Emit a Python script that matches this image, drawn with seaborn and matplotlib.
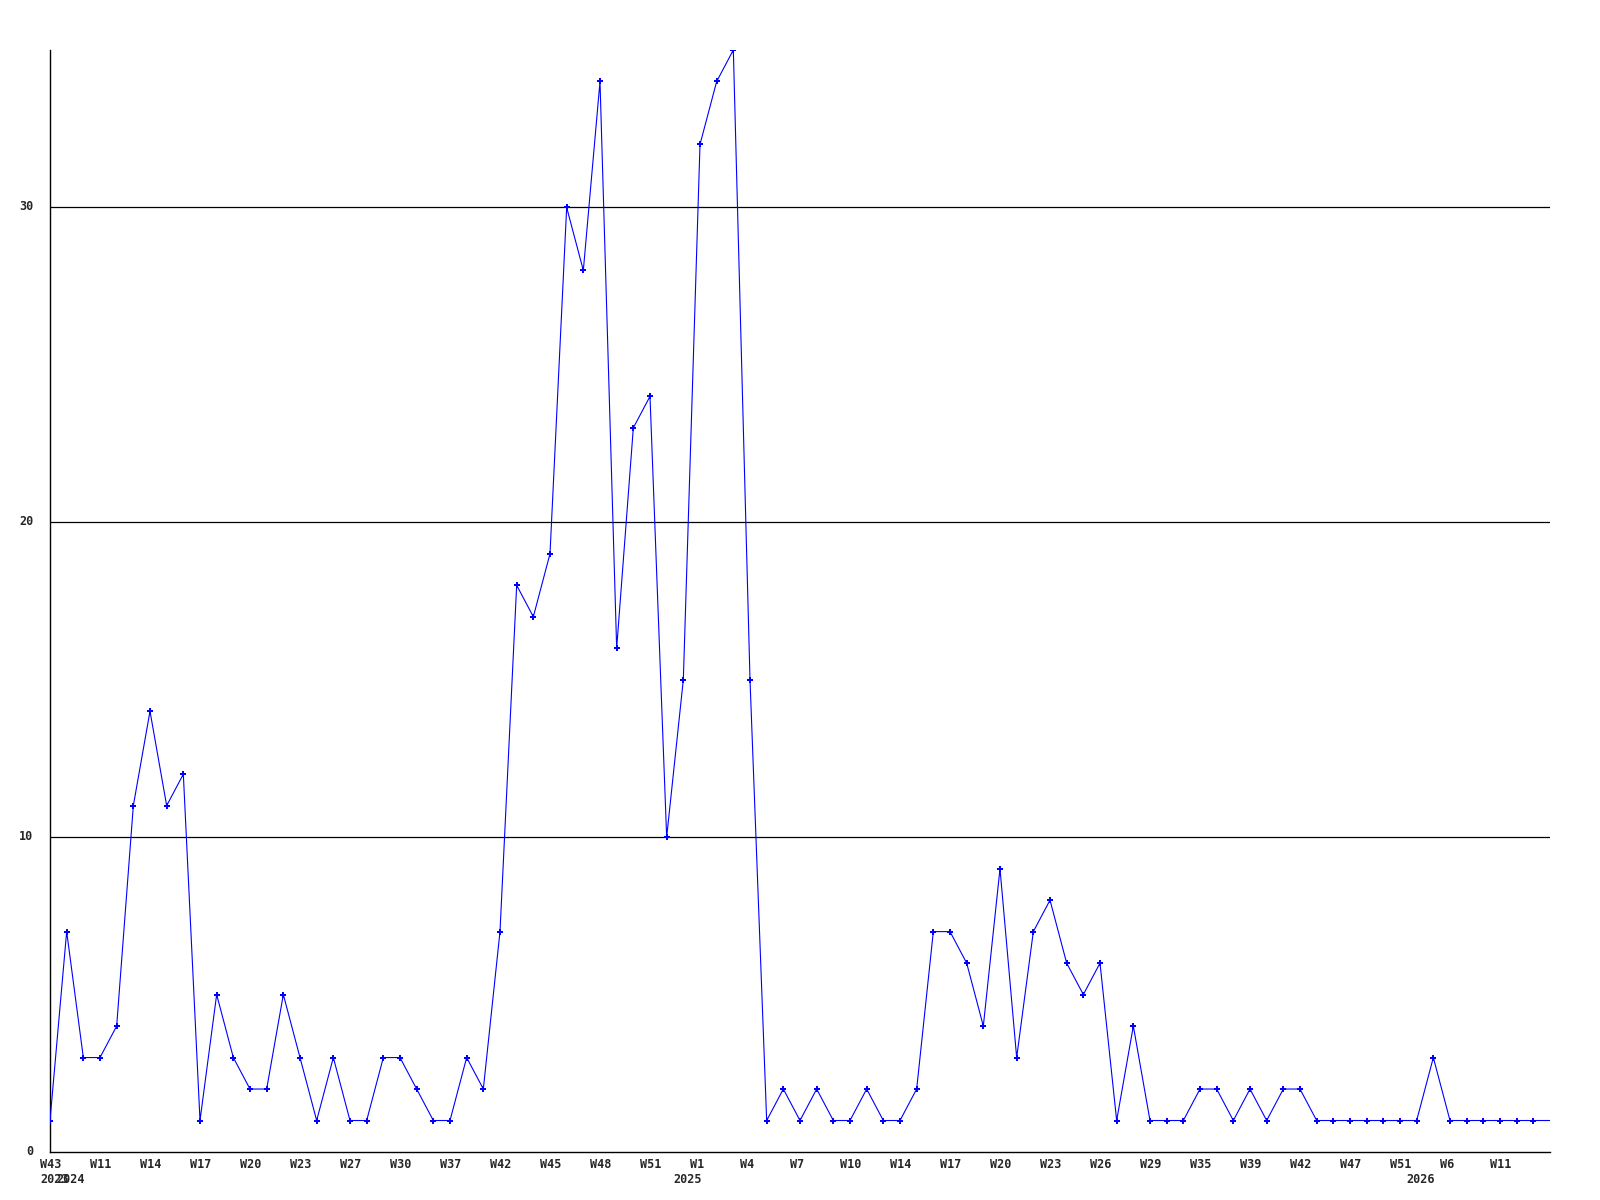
import matplotlib
matplotlib.use("Agg")
import matplotlib.pyplot as plt
import matplotlib.transforms as mtransforms
import seaborn as sns
import numpy as np

# weekly counts, one point per reported week (last point = current week, no marker)
counts = [1, 7, 3, 3, 4, 11, 14, 11, 12, 1,
          5, 3, 2, 2, 5, 3, 1, 3, 1, 1,
          3, 3, 2, 1, 1, 3, 2, 7, 18, 17,
          19, 30, 28, 34, 16, 23, 24, 10, 15, 32,
          34, 35, 15, 1, 2, 1, 2, 1, 1, 2,
          1, 1, 2, 7, 7, 6, 4, 9, 3, 7,
          8, 6, 5, 6, 1, 4, 1, 1, 1, 2,
          2, 1, 2, 1, 2, 2, 1, 1, 1, 1,
          1, 1, 1, 3, 1, 1, 1, 1, 1, 1,
          1]
idx = np.arange(len(counts))

# labels on every third point
week_labels = ["W43", "W11", "W14", "W17", "W20", "W23", "W27", "W30", "W37", "W42",
               "W45", "W48", "W51", "W1", "W4", "W7", "W10", "W14", "W17", "W20",
               "W23", "W26", "W29", "W35", "W39", "W42", "W47", "W51", "W6", "W11"]
week_pos = list(range(0, 3 * len(week_labels), 3))

year_labels = ["2023", "2024", "2025", "2026"]
year_pos = [0, 1, 38, 82]

yticks = [0, 10, 20, 30]

sns.set_style("white")
plt.rcParams['font.family'] = ['DejaVu Sans Mono']

fig = plt.figure(figsize=(16, 12), dpi=100)
ax = fig.add_axes([50 / 1600, 48 / 1200, 1500 / 1600, 1102 / 1200])

for y in yticks[1:]:
    ax.axhline(y, color='black', lw=0.9, zorder=1)

sns.lineplot(x=idx, y=counts, ax=ax, color='#0000ff', lw=0.8, zorder=3)
sns.scatterplot(x=idx[:-1], y=counts[:-1], ax=ax, color='#0000ff', marker='P',
                s=18, linewidth=0, zorder=4)

ax.set_xlim(0, len(counts) - 1)
ax.set_ylim(0, 35)

for s in ['top', 'right']:
    ax.spines[s].set_visible(False)
for s in ['left', 'bottom']:
    ax.spines[s].set_color('black')
    ax.spines[s].set_linewidth(1.0)

ax.set_yticks(yticks)
ax.set_yticklabels([str(v) for v in yticks], fontsize=8.5, fontweight='bold')
ax.tick_params(axis='y', length=0, pad=12)
for lab in ax.get_yticklabels():
    lab.set_transform(lab.get_transform() +
                      mtransforms.ScaledTranslation(0, 2 / 100, fig.dpi_scale_trans))

ax.set_xticks(week_pos)
ax.set_xticklabels(week_labels, fontsize=8.5, fontweight='bold', ha='left')
ax.tick_params(axis='x', length=0, pad=4)
shift = mtransforms.ScaledTranslation(-10 / 100, 0, fig.dpi_scale_trans)
for lab in ax.get_xticklabels():
    lab.set_transform(lab.get_transform() + shift)

trans = mtransforms.blended_transform_factory(ax.transData, ax.transAxes)
trans = trans + mtransforms.ScaledTranslation(-10 / 100, -21 / 100, fig.dpi_scale_trans)
for xp, txt in zip(year_pos, year_labels):
    ax.text(xp, 0, txt, transform=trans, fontsize=8.5, fontweight='bold',
            ha='left', va='top')

ax.set_xlabel('')
ax.set_ylabel('')

fig.savefig('out.png', dpi=100, facecolor='white')
